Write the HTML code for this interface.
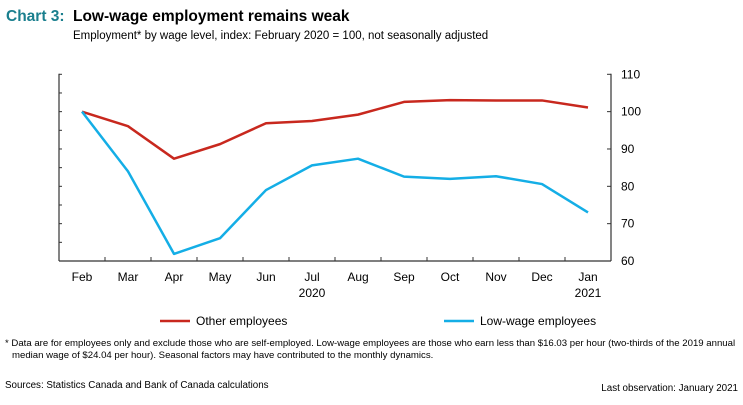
<!DOCTYPE html>
<html><head><meta charset="utf-8"><style>
body{margin:0;background:#fff;font-family:"Liberation Sans",Arial,sans-serif;}
svg text{font-family:"Liberation Sans",Arial,sans-serif;}
</style></head><body>
<svg id="chart" width="743" height="400" viewBox="0 0 743 400" xmlns="http://www.w3.org/2000/svg">
<text x="6" y="21" font-size="15.5" font-weight="bold" fill="#1a7f8e">Chart 3:</text>
<text x="73" y="21" font-size="15.5" font-weight="bold" fill="#000">Low-wage employment remains weak</text>
<text x="73" y="39" font-size="11.5" fill="#000">Employment* by wage level, index: February 2020 = 100, not seasonally adjusted</text>
<g id="axes"></g>
<g id="series"></g>
<g>
<line x1="160" y1="321" x2="190" y2="321" stroke="#c8281e" stroke-width="2.5"/>
<text x="196" y="325" font-size="12">Other employees</text>
<line x1="444" y1="321" x2="474" y2="321" stroke="#14aee6" stroke-width="2.5"/>
<text x="480" y="325" font-size="12">Low-wage employees</text>
</g>
<text font-size="9.6" fill="#000">
<tspan x="5" y="346">* Data are for employees only and exclude those who are self-employed. Low-wage employees are those who earn less than $16.03 per hour (two-thirds of the 2019 annual</tspan>
<tspan x="12" y="358">median wage of $24.04 per hour). Seasonal factors may have contributed to the monthly dynamics.</tspan>
</text>
<text x="5" y="388" font-size="9.8">Sources: Statistics Canada and Bank of Canada calculations</text>
<text x="738" y="391" font-size="9.8" text-anchor="end">Last observation: January 2021</text>
</svg>
<script>
const categories=["Feb","Mar","Apr","May","Jun","Jul","Aug","Sep","Oct","Nov","Dec","Jan"];
const yearLabels=["","","","","","2020","","","","","","2021"];
const otherEmployees=[100,96.1,87.4,91.3,96.9,97.5,99.2,102.6,103.1,103,103,101.1];
const lowWageEmployees=[100,84,61.9,66.1,79,85.6,87.4,82.6,82,82.7,80.6,73];
const yTicks=[60,70,80,90,100,110];
const NS="http://www.w3.org/2000/svg";
const L=59,R=611,T=74.3,B=261,yMin=60,yMax=110;
const band=(R-L)/categories.length;
function xPos(i){return L+band*(i+0.5);}
function yPos(v){return B-(v-yMin)/(yMax-yMin)*(B-T);}
function mk(tag,attrs,parent){const e=document.createElementNS(NS,tag);for(const k in attrs)e.setAttribute(k,attrs[k]);parent.appendChild(e);return e;}
const ax=document.getElementById('axes');
let e;
e=mk('line',{x1:L,y1:T-0.5,x2:L,y2:B,stroke:'#333','stroke-width':1.2},ax);


e=mk('line',{x1:R,y1:T-0.5,x2:R,y2:B,stroke:'#333','stroke-width':1.2},ax);


e=mk('line',{x1:L,y1:B,x2:R,y2:B,stroke:'#333','stroke-width':1.2},ax);


for(let v=yMin;v<=yMax;v+=5){
 const y=yPos(v);
 e=mk('line',{x1:L,y1:y,x2:L+3,y2:y,stroke:'#333','stroke-width':1},ax);
 
 
}
yTicks.forEach(v=>{
 const y=yPos(v);
 e=mk('line',{x1:R-4,y1:y,x2:R,y2:y,stroke:'#333','stroke-width':1},ax);
 
 
 e=mk('text',{x:R+10,y:y+4,'font-size':12},ax);
 e.textContent=v;
 
 
});
categories.forEach((c,i)=>{
 if(i>0){
  const x=L+band*i;
  e=mk('line',{x1:x,y1:B-4,x2:x,y2:B,stroke:'#333','stroke-width':1},ax);
  
  
 }
 e=mk('text',{x:xPos(i),y:B+20,'font-size':12,'text-anchor':'middle'},ax);
 e.textContent=c;
 
 
 if(yearLabels[i]){
  e=mk('text',{x:xPos(i),y:B+36,'font-size':12,'text-anchor':'middle'},ax);
  e.textContent=yearLabels[i];
  
  
 }
});
const sg=document.getElementById('series');
function line(data,color,name){
 const p=mk('polyline',{points:data.map((v,i)=>xPos(i)+','+yPos(v)).join(' '),fill:'none',stroke:color,'stroke-width':2.5,'stroke-linejoin':'round'},sg);
 
 
}
line(otherEmployees,'#c8281e','other-employees-line');
line(lowWageEmployees,'#14aee6','low-wage-employees-line');
</script>
</body></html>
